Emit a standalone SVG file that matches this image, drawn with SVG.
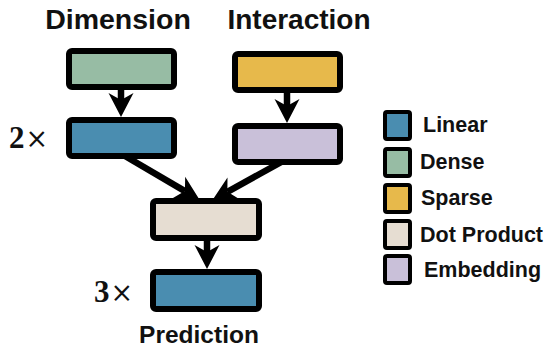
<svg xmlns="http://www.w3.org/2000/svg" width="548" height="347" viewBox="0 0 548 347">
<style>
.box{stroke:#000;stroke-width:6;}
.leg{stroke:#000;stroke-width:4;}
.title{font-family:"Liberation Sans",Arial,sans-serif;font-weight:bold;fill:#111;}
.lab{font-family:"Liberation Sans",Arial,sans-serif;font-weight:bold;font-size:21.5px;fill:#111;}
.mult{font-family:"Liberation Serif","Times New Roman",serif;font-size:31px;fill:#111;}
.con{stroke:#000;stroke-width:6.5;fill:none;marker-end:url(#ah);}
.linear{fill:#4A8DB0;}
.dense{fill:#97BCA4;}
.sparse{fill:#E7B94B;}
.dot{fill:#E6DDD2;}
.emb{fill:#C9C0D9;}
</style>
<defs>
<marker id="ah" markerUnits="userSpaceOnUse" markerWidth="30" markerHeight="30" viewBox="-2 -14 30 28" refX="7" refY="0" orient="auto">
<path d="M0,-12.5 L24,0 L0,12.5 L7,0 Z" fill="#000"/>
</marker>
</defs>
<rect width="548" height="347" fill="#fff"/>
<g id="connectors">
<line class="con" x1="121" y1="87" x2="121" y2="100"/>
<line class="con" x1="287" y1="90" x2="287" y2="106"/>
<line class="con" x1="125" y1="156" x2="184.9" y2="191.1"/>
<line class="con" x1="285" y1="160" x2="227.4" y2="191.8"/>
<line class="con" x1="207" y1="238" x2="207" y2="252"/>
</g>
<g id="dense-node"><rect class="box dense" x="69" y="51" width="105" height="36" rx="3"/></g>
<g id="linear-node"><rect class="box linear" x="69" y="120" width="105" height="36" rx="3"/></g>
<g id="sparse-node"><rect class="box sparse" x="235" y="54" width="105" height="36" rx="3"/></g>
<g id="embedding-node"><rect class="box emb" x="235" y="126" width="105" height="36" rx="3"/></g>
<g id="dot-node"><rect class="box dot" x="153" y="201" width="106" height="37" rx="3"/></g>
<g id="prediction-node"><rect class="box linear" x="153" y="272" width="106" height="37" rx="3"/></g>
<g id="titles">
<text class="title" x="118" y="29" font-size="28.5" text-anchor="middle">Dimension</text>
<text class="title" x="299" y="29" font-size="28" text-anchor="middle">Interaction</text>
<text class="title" x="199" y="343" font-size="24.5" text-anchor="middle">Prediction</text>
</g>
<g id="multipliers">
<text class="mult" x="9" y="148"><tspan font-weight="bold">2</tspan><tspan font-family="DejaVu Serif,serif" font-size="27" dx="1">×</tspan></text>
<text class="mult" x="94" y="302"><tspan font-weight="bold">3</tspan><tspan font-family="DejaVu Serif,serif" font-size="27" dx="1">×</tspan></text>
</g>
<g id="legend">
<g id="legend-linear"><rect class="leg linear" x="385" y="112" width="25" height="27" rx="2"/><text class="lab" x="423" y="132">Linear</text></g>
<g id="legend-dense"><rect class="leg dense" x="385" y="149" width="25" height="27" rx="2"/><text class="lab" x="420" y="169">Dense</text></g>
<g id="legend-sparse"><rect class="leg sparse" x="385" y="185" width="25" height="27" rx="2"/><text class="lab" x="421" y="205">Sparse</text></g>
<g id="legend-dot"><rect class="leg dot" x="385" y="221" width="25" height="27" rx="2"/><text class="lab" x="420" y="242">Dot Product</text></g>
<g id="legend-emb"><rect class="leg emb" x="385" y="256" width="25" height="27" rx="2"/><text class="lab" x="424" y="277">Embedding</text></g>
</g>
</svg>
